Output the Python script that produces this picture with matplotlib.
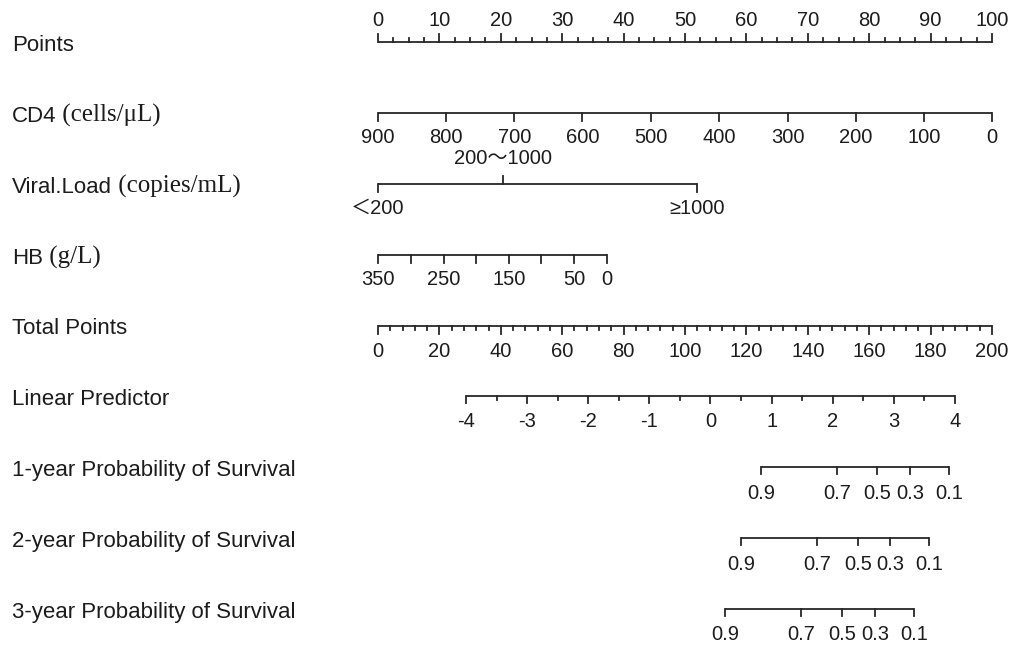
import matplotlib
matplotlib.use("Agg")
import matplotlib.pyplot as plt
import matplotlib.transforms as mtransforms
import numpy as np

# ---------------- data ----------------
row_names = ["Points", "CD4", "Viral.Load", "HB", "Total Points", "Linear Predictor",
             "1-year Probability of Survival", "2-year Probability of Survival",
             "3-year Probability of Survival"]
row_units = ["", " (cells/\u03bcL)", " (copies/mL)", " (g/L)", "", "", "", "", ""]

points_major = [0, 10, 20, 30, 40, 50, 60, 70, 80, 90, 100]
points_minor_step = 2.5

cd4_values = [900, 800, 700, 600, 500, 400, 300, 200, 100, 0]
cd4_points = [0, 11.1, 22.2, 33.3, 44.4, 55.6, 66.7, 77.8, 88.9, 100]

vl_labels = ["\uff1c200", "200\uff5e1000", "\u22651000"]
vl_points = [0, 20.4, 52.0]
vl_side = ["below", "above", "below"]

hb_values = [350, 300, 250, 200, 150, 100, 50, 0]
hb_points = [0, 5.3, 10.7, 16.0, 21.3, 26.6, 32.0, 37.3]
hb_labelled = [350, 250, 150, 50, 0]

total_major = [0, 20, 40, 60, 80, 100, 120, 140, 160, 180, 200]
total_minor_step = 4
total_max = 200

lp_major = [-4, -3, -2, -1, 0, 1, 2, 3, 4]
lp_minor_step = 0.5
lp_total_at = {-4: 28.7, 4: 187.9}   # total points at LP = -4 and LP = 4

surv_probs = [0.9, 0.7, 0.5, 0.3, 0.1]
surv_total = {
    "1-year": [124.8, 149.5, 162.5, 173.3, 186.0],
    "2-year": [118.2, 143.0, 156.4, 166.8, 179.5],
    "3-year": [113.0, 137.8, 151.1, 161.9, 174.6],
}

# ---------------- style ----------------
W, H = 1011, 645
LINE = "#262626"
TXT = "#1c1c1c"
LW = 1.3
SANS = ["Liberation Sans", "Noto Sans CJK SC", "DejaVu Sans"]
SERIF = ["Liberation Serif", "DejaVu Serif"]
FS_LAB = 16
FS_TICK = 14.5

x0_px, x1_px = 378, 992
ytop_px, ybot_px = 42, 609
px_per_row = (ybot_px - ytop_px) / 8.0

fig = plt.figure(figsize=(W / 100, H / 100), dpi=100)
fig.patch.set_facecolor("white")
ax = fig.add_axes([x0_px / W, 1 - ybot_px / H, (x1_px - x0_px) / W, (ybot_px - ytop_px) / H])
ax.set_xlim(0, 100)
ax.set_ylim(8, 0)
ax.axis("off")


def py(px):
    return px / px_per_row


def draw_scale(row, xs, labels, majors, side="below", maj_len=8, min_len=4,
               lab_off=25, label_sides=None):
    xs = np.asarray(xs, dtype=float)
    ax.plot([xs.min(), xs.max()], [row, row], color=LINE, lw=LW,
            clip_on=False, solid_capstyle="butt")
    for i, x in enumerate(xs):
        s = side if label_sides is None else label_sides[i]
        sgn = 1 if s == "below" else -1
        ln = maj_len if majors[i] else min_len
        ax.plot([x, x], [row, row + sgn * py(ln)], color=LINE, lw=LW, clip_on=False)
        if labels[i] is not None:
            ax.text(x, row + sgn * py(lab_off), labels[i], ha="center", va="center",
                    fontsize=FS_TICK, color=TXT, family=SANS, clip_on=False)


# Row 0: Points (ticks and labels above)
pts_all = np.arange(0, 100 + 1e-9, points_minor_step)
draw_scale(0, pts_all,
           [str(int(v)) if v in points_major else None for v in pts_all],
           [v in points_major for v in pts_all], side="above", maj_len=8, min_len=4,
           lab_off=22)

# Row 1: CD4
draw_scale(1, cd4_points, [str(v) for v in cd4_values], [True] * len(cd4_values),
           lab_off=25)

# Row 2: Viral load
draw_scale(2, vl_points, vl_labels, [True] * 3, label_sides=vl_side, lab_off=25)

# Row 3: HB
draw_scale(3, hb_points, [str(v) if v in hb_labelled else None for v in hb_values],
           [True] * len(hb_values), lab_off=25)

# Row 4: Total points
tot_all = np.arange(0, total_max + 1e-9, total_minor_step)
draw_scale(4, tot_all * 100.0 / total_max,
           [str(int(v)) if v in total_major else None for v in tot_all],
           [v in total_major for v in tot_all], maj_len=8, min_len=5, lab_off=26)

# Row 5: Linear predictor
lp_all = np.arange(-4, 4 + 1e-9, lp_minor_step)
slope = (lp_total_at[4] - lp_total_at[-4]) / 8.0
lp_tot = lp_total_at[-4] + (lp_all + 4) * slope
draw_scale(5, lp_tot * 100.0 / total_max,
           [str(int(v)) if float(v).is_integer() else None for v in lp_all],
           [float(v).is_integer() for v in lp_all], maj_len=7, min_len=4, lab_off=25)

# Rows 6-8: survival
for r, key in zip([6, 7, 8], ["1-year", "2-year", "3-year"]):
    draw_scale(r, np.array(surv_total[key]) * 100.0 / total_max,
               [f"{p:.1f}" for p in surv_probs], [True] * 5, maj_len=7, lab_off=26)

# Left labels
blend = mtransforms.blended_transform_factory(fig.transFigure, ax.transData)
for r, (name, unit) in enumerate(zip(row_names, row_units)):
    yb = r + py(9)
    t = ax.text(12 / W, yb, name, transform=blend, ha="left", va="baseline",
                fontsize=FS_LAB, color=TXT, family=SANS, clip_on=False)
    if unit:
        ax.annotate(unit, xy=(1, yb), xycoords=(t, ax.transData), ha="left",
                    va="baseline", fontsize=18, color=TXT, family=SERIF,
                    annotation_clip=False)

fig.savefig("out.png", dpi=100, facecolor="white")
